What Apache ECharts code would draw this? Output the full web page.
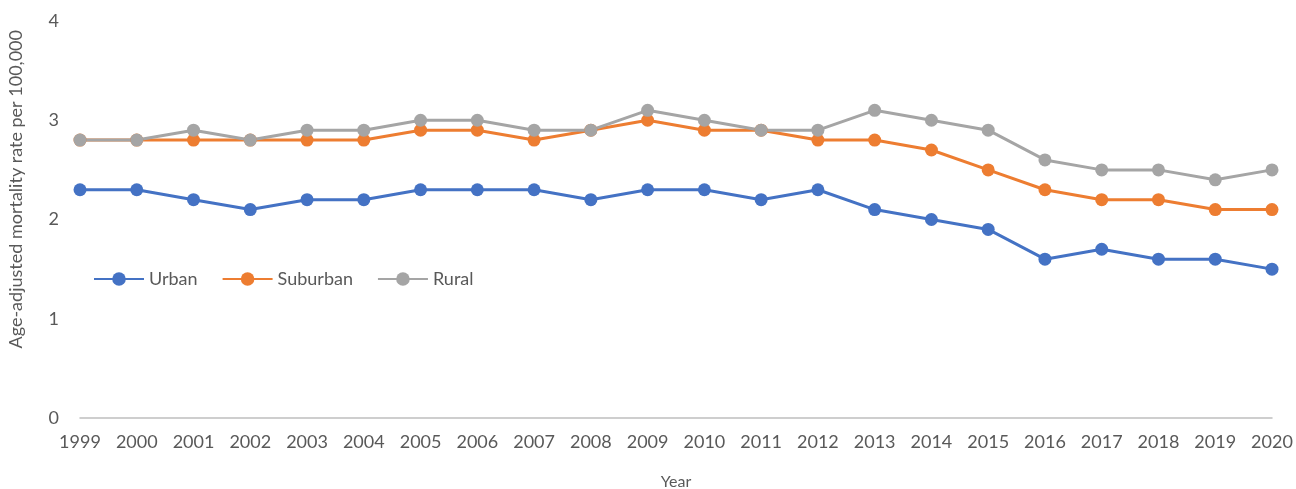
<!DOCTYPE html>
<html>
<head>
<meta charset="utf-8">
<script src="https://cdn.jsdelivr.net/npm/echarts@6/dist/echarts.min.js"></script>
<style>
  html, body { margin: 0; padding: 0; background: #fff; }
  #chart { width: 1296px; height: 489px; }
</style>
</head>
<body>
<div id="chart"></div>
<script>
// Age-adjusted mortality rate per 100,000 by urbanization level, 1999–2020
const years = ['1999','2000','2001','2002','2003','2004','2005','2006','2007','2008','2009',
               '2010','2011','2012','2013','2014','2015','2016','2017','2018','2019','2020'];
const urban    = [2.3,2.3,2.2,2.1,2.2,2.2,2.3,2.3,2.3,2.2,2.3,2.3,2.2,2.3,2.1,2.0,1.9,1.6,1.7,1.6,1.6,1.5];
const suburban = [2.8,2.8,2.8,2.8,2.8,2.8,2.9,2.9,2.8,2.9,3.0,2.9,2.9,2.8,2.8,2.7,2.5,2.3,2.2,2.2,2.1,2.1];
const rural    = [2.8,2.8,2.9,2.8,2.9,2.9,3.0,3.0,2.9,2.9,3.1,3.0,2.9,2.9,3.1,3.0,2.9,2.6,2.5,2.5,2.4,2.5];
const yTicks   = [0, 1, 2, 3, 4];

const FONT = 'Lato, "Open Sans", "Liberation Sans", sans-serif';
const TEXT = '#595959';

function lineSeries(name, data, color) {
  return {
    name, type: 'line', data,
    symbol: 'circle', symbolSize: 13,
    lineStyle: { color, width: 3 },
    itemStyle: { color },
    emphasis: { disabled: true },
    animation: false
  };
}

const chart = echarts.init(document.getElementById('chart'), null, { renderer: 'canvas' });
chart.setOption({
  backgroundColor: '#ffffff',
  textStyle: { fontFamily: FONT, color: TEXT },
  grid: { left: 80, right: 24, top: 21, bottom: 71, containLabel: false, outerBoundsMode: 'none' },
  legend: {
    left: 88, top: 265,
    itemWidth: 50, itemHeight: 17, itemGap: 24,
    textStyle: { fontFamily: FONT, fontSize: 18, color: TEXT },
    data: ['Urban', 'Suburban', 'Rural']
  },
  xAxis: {
    type: 'category', data: years, boundaryGap: false,
    name: 'Year', nameLocation: 'middle', nameGap: 56,
    nameTextStyle: { fontFamily: FONT, fontSize: 16, color: TEXT },
    axisLine: { show: true, lineStyle: { color: '#bfbfbf', width: 1.5 } },
    axisTick: { show: false },
    axisLabel: { fontFamily: FONT, fontSize: 18, color: TEXT, margin: 15, interval: 0 }
  },
  yAxis: {
    type: 'value', min: yTicks[0], max: yTicks[yTicks.length - 1], interval: 1,
    axisLine: { show: false }, axisTick: { show: false },
    splitLine: { show: false },
    axisLabel: { fontFamily: FONT, fontSize: 18, color: TEXT, margin: 21 }
  },
  graphic: [{
    type: 'text', left: 7, top: 30,
    rotation: Math.PI / 2,
    style: {
      text: 'Age-adjusted mortality rate per 100,000',
      fontFamily: FONT, fontSize: 18, fill: TEXT
    }
  }],
  series: [
    lineSeries('Urban', urban, '#4472C4'),
    lineSeries('Suburban', suburban, '#ED7D31'),
    lineSeries('Rural', rural, '#A5A5A5')
  ]
});
</script>
</body>
</html>
